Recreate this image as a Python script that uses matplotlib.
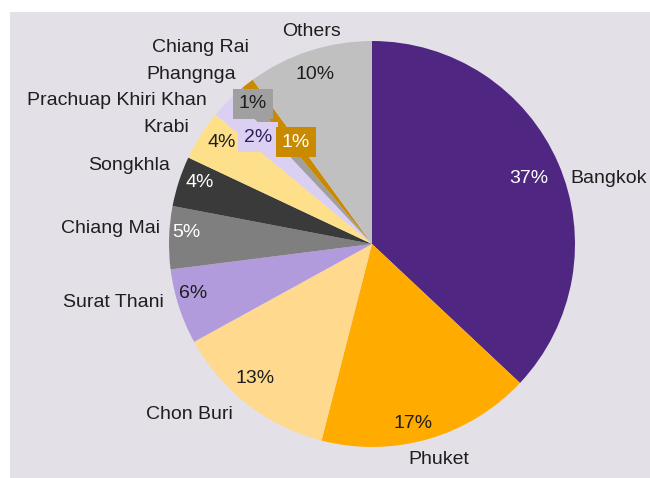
import matplotlib.pyplot as plt
from matplotlib.patches import Rectangle

# data (clockwise from 12 o'clock)
provinces = ['Bangkok', 'Phuket', 'Chon Buri', 'Surat Thani', 'Chiang Mai',
             'Songkhla', 'Krabi', 'Prachuap Khiri Khan', 'Phangnga',
             'Chiang Rai', 'Others']
shares = [37, 17, 13, 6, 5, 4, 4, 2, 1, 1, 10]
colors = ['#4f2783', '#ffab00', '#fed98e', '#b29bdd', '#7f7f7f', '#3a3a3a',
          '#fee08b', '#dcd0f2', '#a0a0a0', '#c98a00', '#c0c0c0']

# label placement (pie units), tuned by eye
name_pos = [(0.975, 0.325, 'left'), (0.33, -1.06, 'center'), (-0.897, -0.842, 'center'),
            (-1.025, -0.29, 'right'), (-1.044, 0.074, 'right'), (-0.995, 0.389, 'right'),
            (-0.901, 0.576, 'right'), (-0.813, 0.709, 'right'), (-0.670, 0.833, 'right'),
            (-0.606, 0.966, 'right'), (-0.300, 1.049, 'center')]
pct_pos = [(0.773, 0.325), (0.202, -0.882), (-0.576, -0.665), (-0.882, -0.246),
           (-0.916, 0.059), (-0.847, 0.305), (-0.739, 0.498), (-0.562, 0.527),
           (-0.586, 0.690), (-0.374, 0.502), (-0.281, 0.837)]
pct_color = ['white', '#1e1e1e', '#1e1e1e', '#1e1e1e', 'white', 'white',
             '#1e1e1e', '#2e1f5c', '#1e1e1e', 'white', '#1e1e1e']
boxed = [False, False, False, False, False, False, False, True, True, True, False]

plt.rcParams['font.family'] = ['Liberation Sans', 'DejaVu Sans']

fig = plt.figure(figsize=(6.5, 4.78), dpi=100, facecolor='white')
fig.add_artist(Rectangle((10 / 650, 0), 640 / 650, 466 / 478, transform=fig.transFigure,
                         facecolor='#e4e0e8', edgecolor='none', zorder=0))
ax = fig.add_axes([10 / 650, 0, 640 / 650, 466 / 478])

ax.pie(shares, colors=colors, startangle=90, counterclock=False, radius=1.0,
       wedgeprops=dict(linewidth=0))

for name, (x, y, ha) in zip(provinces, name_pos):
    ax.text(x, y, name, ha=ha, va='center', fontsize=14, color='#1e1e1e')

for val, (x, y), c, b, fc in zip(shares, pct_pos, pct_color, boxed, colors):
    kw = {}
    if b:
        kw['bbox'] = dict(boxstyle='square,pad=0.32', facecolor=fc, edgecolor='none')
    ax.text(x, y, f'{val}%', ha='center', va='center', fontsize=14, color=c, **kw)

ax.set_aspect('auto')
ax.set_xlim(-362 / 203, 278 / 203)
ax.set_ylim(-234 / 203, 232 / 203)
ax.axis('off')

fig.savefig('out.png', dpi=100, facecolor='white')
